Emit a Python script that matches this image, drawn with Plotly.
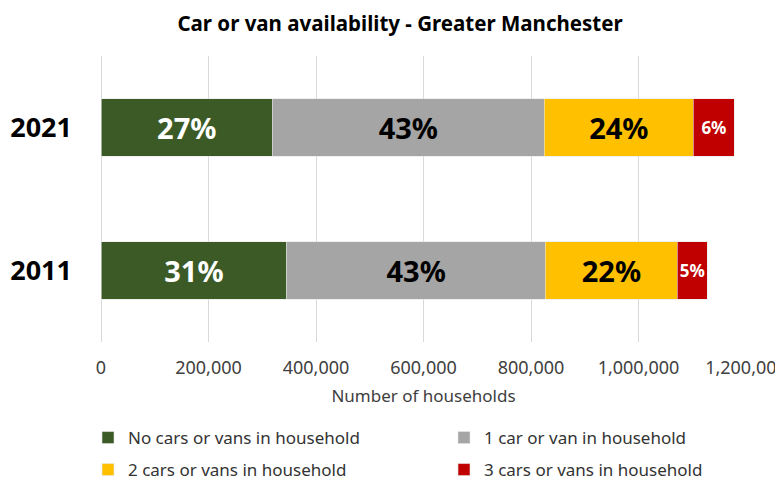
import plotly.graph_objects as go

years = ["2021", "2011"]
series_names = [
    "No cars or vans in household",
    "1 car or van in household",
    "2 cars or vans in household",
    "3 cars or vans in household",
]
no_car = [319000, 345800]
one_car = [505500, 481100]
two_cars = [277700, 245400]
three_cars = [76200, 55800]
pct_no_car = ["27%", "31%"]
pct_one_car = ["43%", "43%"]
pct_two_cars = ["24%", "22%"]
pct_three_cars = ["6%", "5%"]
x_ticks = [0, 200000, 400000, 600000, 800000, 1000000, 1200000]
x_tick_labels = ["0", "200,000", "400,000", "600,000", "800,000", "1,000,000", "1,200,000"]

colors = ["#3B5A26", "#A5A5A5", "#FFC000", "#C00000"]
text_colors = ["white", "black", "black", "white"]
text_sizes = [29, 29, 29, 17]
values = [no_car, one_car, two_cars, three_cars]
labels = [pct_no_car, pct_one_car, pct_two_cars, pct_three_cars]
legend_ids = ["legend", "legend2", "legend3", "legend4"]

FONT = "Noto Sans"
# The page body adds an 8px offset; the figure is sized to fill the rest of the window.
W, H = 775, 471

fig = go.Figure()
for name, vals, lab, col, tc, ts, lg in zip(series_names, values, labels, colors,
                                            text_colors, text_sizes, legend_ids):
    fig.add_trace(go.Bar(
        y=years, x=vals, name=name, orientation="h",
        marker=dict(color=col, line=dict(color="#E6E6E6", width=0.6)),
        text=lab, textposition="inside", insidetextanchor="middle",
        textfont=dict(family=FONT, size=ts, color=tc, weight="bold"),
        textangle=0, constraintext="none",
        legend=lg, hoverinfo="x+name",
    ))

leg_common = dict(orientation="h", xref="container", yref="container",
                  xanchor="left", yanchor="middle", itemwidth=30,
                  font=dict(family=FONT, size=17, color="#333333"),
                  bgcolor="rgba(0,0,0,0)")
col_x = [80, 436]
row_y = [430, 462]
legend_pos = [(col_x[0], row_y[0]), (col_x[1], row_y[0]),
              (col_x[0], row_y[1]), (col_x[1], row_y[1])]
legend_layout = {lg: dict(x=px / W, y=1 - py / H, **leg_common)
                 for lg, (px, py) in zip(legend_ids, legend_pos)}

fig.update_layout(
    width=W, height=H,
    barmode="stack", bargap=0.6,
    paper_bgcolor="white", plot_bgcolor="white",
    margin=dict(l=93, r=37, t=48, b=137, autoexpand=False),
    font=dict(family=FONT, color="#404040"),
    title=dict(text="<b>Car or van availability - Greater Manchester</b>",
               x=392 / W, xanchor="center", y=1 - 16 / H, yanchor="middle",
               font=dict(family=FONT, size=20.5, color="black")),
    xaxis=dict(range=[0, 1200000], tickvals=x_ticks, ticktext=x_tick_labels,
               showgrid=True, gridcolor="#D9D9D9", gridwidth=1,
               zeroline=True, zerolinecolor="#D9D9D9", zerolinewidth=1,
               showline=False, ticks="", ticklabelstandoff=13, automargin=False,
               ticklabeloverflow="allow",
               tickfont=dict(family=FONT, size=18, color="#404040"),
               title=dict(text="Number of households", standoff=12,
                          font=dict(family=FONT, size=17, color="#404040"))),
    yaxis=dict(autorange="reversed", showgrid=False, showline=False, ticks="",
               ticklabelstandoff=28, automargin=False,
               tickfont=dict(family=FONT, size=27, color="black", weight="bold")),
    showlegend=True,
    **legend_layout,
)

fig.write_html("out.html")
